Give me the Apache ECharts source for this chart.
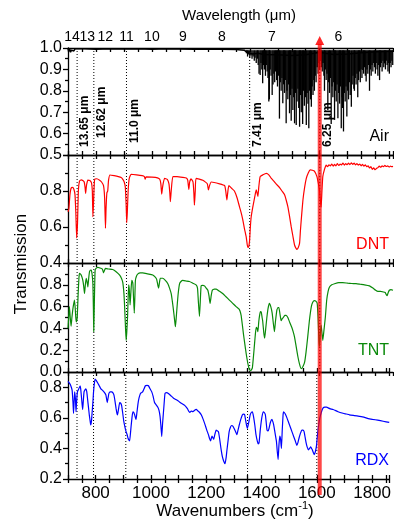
<!DOCTYPE html>
<html><head><meta charset="utf-8">
<script src="https://cdn.jsdelivr.net/npm/echarts/dist/echarts.min.js"></script>
<style>html,body{margin:0;padding:0;background:#fff}#c{width:394px;height:527px}</style>
</head><body><div id="c"></div><script>
// ---------------- DATA ----------------
const wavelengthTicks = [14, 13, 12, 11, 10, 9, 8, 7, 6];          // top axis (µm)
const markerWavelengths = ['13.65', '12.62', '11.0', '7.41', '6.25'];  // dotted markers (µm)
const arrowWavelength = '6.25';
const panelNames = ['Air', 'DNT', 'TNT', 'RDX'];

const airBaseline = [[700,0.995],[703,0.985],[706,0.995],[709,0.98],[712,0.99],[715,0.985],[718,0.995],[721,0.986],[725,0.996],[729,0.99],[735,0.997],[760,0.996],[800,0.994],[850,0.996],[900,0.995],[950,0.996],[1000,0.994],[1050,0.996],[1100,0.995],[1150,0.994],[1200,0.995],[1250,0.994],[1300,0.993],[1330,0.99],[1340,0.98],[1360,0.972],[1380,0.975],[1400,0.97],[1450,0.968],[1500,0.965],[1550,0.968],[1580,0.975],[1600,0.98],[1620,0.975],[1650,0.97],[1700,0.972],[1750,0.978],[1800,0.982],[1862,0.985]];

const airLines = [[1338,0.975],[1342,0.96],[1346,0.97],[1350,0.955],[1354,0.965],[1358,0.95],[1362,0.96],[1366,0.94],[1369,0.955],[1373,0.93],[1377,0.95],[1380,0.92],[1383,0.88],[1387,0.874],[1390,0.93],[1393,0.90],[1396,0.835],[1399,0.92],[1402,0.90],[1406,0.87],[1409,0.92],[1412,0.89],[1415,0.86],[1418,0.75],[1420,0.76],[1423,0.90],[1426,0.87],[1430,0.78],[1433,0.83],[1436,0.88],[1439,0.84],[1442,0.89],[1446,0.85],[1449,0.82],[1452,0.87],[1456,0.67],[1459,0.84],[1462,0.80],[1465,0.86],[1468,0.742],[1471,0.83],[1474,0.79],[1477,0.85],[1480,0.648],[1483,0.80],[1486,0.76],[1489,0.83],[1492,0.695],[1495,0.78],[1498,0.66],[1501,0.81],[1504,0.71],[1507,0.77],[1510,0.648],[1513,0.79],[1516,0.64],[1519,0.75],[1522,0.81],[1525,0.72],[1528,0.632],[1531,0.78],[1534,0.70],[1537,0.76],[1539,0.645],[1542,0.80],[1545,0.73],[1549,0.77],[1552,0.64],[1555,0.79],[1558,0.74],[1561,0.625],[1564,0.80],[1567,0.76],[1570,0.726],[1573,0.82],[1576,0.78],[1579,0.85],[1581,0.80],[1584,0.87],[1587,0.84],[1591,0.91],[1594,0.88],[1597,0.93],[1600,0.90],[1603,0.94],[1606,0.91],[1609,0.89],[1612,0.93],[1615,0.87],[1617,0.80],[1620,0.90],[1623,0.85],[1626,0.88],[1629,0.71],[1632,0.84],[1635,0.79],[1638,0.86],[1641,0.645],[1644,0.82],[1647,0.77],[1650,0.84],[1653,0.664],[1656,0.80],[1659,0.75],[1662,0.83],[1665,0.672],[1668,0.79],[1671,0.74],[1674,0.82],[1677,0.625],[1680,0.77],[1682,0.72],[1685,0.61],[1688,0.79],[1691,0.75],[1694,0.82],[1697,0.68],[1700,0.80],[1703,0.76],[1706,0.84],[1709,0.78],[1713,0.726],[1716,0.83],[1719,0.87],[1722,0.81],[1724,0.80],[1727,0.86],[1730,0.83],[1733,0.88],[1736,0.77],[1739,0.85],[1742,0.89],[1745,0.84],[1748,0.90],[1751,0.86],[1754,0.897],[1757,0.88],[1760,0.91],[1763,0.87],[1766,0.843],[1769,0.90],[1772,0.88],[1775,0.92],[1778,0.80],[1781,0.90],[1784,0.87],[1787,0.92],[1790,0.89],[1793,0.93],[1796,0.91],[1799,0.88],[1802,0.93],[1805,0.90],[1808,0.87],[1811,0.92],[1814,0.85],[1817,0.91],[1820,0.93],[1823,0.89],[1826,0.94],[1829,0.91],[1832,0.928],[1835,0.90],[1838,0.94],[1841,0.92],[1844,0.89],[1847,0.93],[1849,0.88],[1852,0.93],[1855,0.91],[1858,0.94],[1861,0.92]];

const dnt = [[700,0.685],[703,0.70],[707,0.78],[711,0.815],[716,0.82],[721,0.81],[725,0.78],[728,0.68],[731,0.54],[734,0.62],[737,0.80],[741,0.855],[747,0.862],[753,0.858],[758,0.85],[761,0.82],[763,0.787],[766,0.83],[771,0.86],[778,0.858],[784,0.845],[787,0.80],[789,0.657],[791,0.72],[795,0.865],[803,0.868],[813,0.86],[820,0.85],[827,0.83],[831,0.76],[834,0.593],[836,0.70],[839,0.79],[842,0.80],[845,0.86],[850,0.889],[865,0.885],[880,0.88],[890,0.875],[896,0.865],[901,0.85],[905,0.82],[908,0.72],[910,0.624],[912,0.68],[915,0.80],[919,0.87],[926,0.893],[945,0.89],[965,0.885],[973,0.88],[976,0.866],[979,0.878],[1000,0.877],[1020,0.873],[1028,0.865],[1032,0.84],[1035,0.783],[1038,0.82],[1045,0.87],[1055,0.865],[1061,0.84],[1064,0.79],[1066,0.741],[1069,0.80],[1075,0.88],[1090,0.88],[1110,0.876],[1123,0.872],[1128,0.86],[1132,0.809],[1135,0.85],[1140,0.868],[1147,0.85],[1150,0.79],[1152,0.722],[1155,0.80],[1158,0.87],[1182,0.86],[1198,0.84],[1202,0.806],[1206,0.83],[1212,0.85],[1242,0.84],[1260,0.83],[1264,0.80],[1268,0.75],[1271,0.79],[1275,0.83],[1285,0.815],[1295,0.80],[1305,0.76],[1313,0.713],[1319,0.68],[1325,0.64],[1331,0.59],[1337,0.546],[1341,0.50],[1343,0.487],[1346,0.49],[1349,0.52],[1352,0.60],[1355,0.657],[1361,0.713],[1368,0.77],[1373,0.806],[1376,0.79],[1379,0.77],[1382,0.82],[1387,0.88],[1397,0.89],[1409,0.898],[1418,0.89],[1427,0.87],[1436,0.855],[1444,0.84],[1450,0.83],[1456,0.82],[1465,0.80],[1474,0.78],[1480,0.75],[1486,0.713],[1492,0.66],[1498,0.602],[1504,0.55],[1510,0.50],[1514,0.485],[1518,0.476],[1523,0.485],[1528,0.51],[1531,0.58],[1534,0.64],[1540,0.75],[1546,0.82],[1552,0.87],[1559,0.90],[1566,0.917],[1574,0.915],[1581,0.91],[1590,0.88],[1594,0.85],[1599,0.806],[1602,0.75],[1605,0.71],[1608,0.80],[1611,0.88],[1617,0.92],[1623,0.944],[1628,0.935],[1633,0.945],[1638,0.94],[1643,0.95],[1648,0.938],[1653,0.948],[1658,0.94],[1663,0.952],[1668,0.942],[1673,0.95],[1678,0.945],[1683,0.955],[1688,0.944],[1693,0.952],[1698,0.946],[1703,0.955],[1708,0.947],[1713,0.956],[1718,0.948],[1723,0.955],[1728,0.945],[1733,0.952],[1738,0.944],[1743,0.95],[1748,0.94],[1753,0.948],[1758,0.938],[1763,0.945],[1768,0.935],[1773,0.94],[1778,0.928],[1783,0.935],[1788,0.92],[1793,0.928],[1798,0.918],[1803,0.925],[1808,0.93],[1813,0.938],[1818,0.932],[1823,0.94],[1828,0.935],[1833,0.942],[1838,0.936],[1843,0.94],[1848,0.933],[1853,0.938],[1858,0.935],[1862,0.937]];

const tnt = [[700,0.40],[703,0.52],[705,0.60],[708,0.50],[711,0.42],[714,0.50],[717,0.57],[720,0.62],[723,0.66],[726,0.58],[729,0.46],[731,0.47],[733,0.50],[736,0.70],[739,0.86],[741,0.905],[744,0.90],[747,0.89],[750,0.87],[753,0.84],[756,0.79],[759,0.72],[762,0.80],[765,0.86],[768,0.83],[771,0.78],[774,0.86],[777,0.92],[780,0.935],[783,0.936],[786,0.90],[789,0.81],[791,0.55],[792,0.37],[794,0.60],[797,0.936],[802,0.955],[807,0.96],[813,0.955],[819,0.95],[823,0.945],[827,0.91],[830,0.93],[834,0.95],[845,0.945],[860,0.94],[872,0.92],[884,0.89],[891,0.86],[896,0.82],[900,0.72],[903,0.57],[906,0.38],[908,0.29],[910,0.36],[913,0.51],[915,0.68],[917,0.80],[919,0.76],[922,0.615],[925,0.74],[928,0.84],[930,0.83],[932,0.81],[934,0.70],[937,0.54],[939,0.68],[941,0.84],[945,0.88],[950,0.90],[958,0.91],[967,0.91],[985,0.90],[1003,0.89],[1012,0.87],[1017,0.85],[1021,0.80],[1024,0.77],[1027,0.82],[1030,0.86],[1039,0.86],[1048,0.84],[1057,0.81],[1063,0.77],[1069,0.72],[1073,0.65],[1077,0.57],[1081,0.48],[1084,0.415],[1087,0.50],[1090,0.60],[1094,0.72],[1099,0.81],[1104,0.83],[1110,0.84],[1122,0.835],[1134,0.83],[1146,0.815],[1158,0.80],[1163,0.77],[1166,0.65],[1170,0.51],[1173,0.65],[1176,0.79],[1182,0.795],[1188,0.79],[1194,0.77],[1200,0.75],[1204,0.70],[1208,0.63],[1212,0.70],[1216,0.75],[1223,0.76],[1230,0.76],[1242,0.74],[1253,0.72],[1265,0.69],[1277,0.66],[1289,0.63],[1301,0.60],[1306,0.59],[1311,0.58],[1315,0.56],[1319,0.52],[1323,0.44],[1327,0.355],[1332,0.26],[1337,0.17],[1343,0.08],[1349,0.02],[1354,0.015],[1359,0.035],[1363,0.14],[1367,0.26],[1370,0.35],[1373,0.41],[1376,0.40],[1379,0.37],[1382,0.46],[1385,0.52],[1388,0.555],[1391,0.55],[1394,0.50],[1396,0.47],[1400,0.36],[1403,0.31],[1407,0.40],[1411,0.50],[1415,0.58],[1420,0.63],[1425,0.60],[1430,0.54],[1434,0.45],[1438,0.37],[1442,0.47],[1447,0.57],[1451,0.59],[1454,0.59],[1458,0.53],[1462,0.47],[1466,0.49],[1470,0.50],[1475,0.52],[1480,0.52],[1486,0.50],[1492,0.46],[1500,0.41],[1505,0.37],[1510,0.32],[1516,0.23],[1522,0.14],[1528,0.07],[1534,0.03],[1540,0.05],[1546,0.09],[1551,0.18],[1557,0.32],[1563,0.47],[1570,0.60],[1575,0.64],[1581,0.655],[1586,0.65],[1591,0.63],[1594,0.50],[1597,0.30],[1599,0.235],[1602,0.35],[1605,0.43],[1608,0.36],[1611,0.29],[1615,0.38],[1620,0.50],[1625,0.66],[1630,0.74],[1635,0.78],[1643,0.80],[1653,0.81],[1668,0.82],[1682,0.82],[1700,0.815],[1715,0.812],[1730,0.81],[1745,0.805],[1760,0.80],[1778,0.79],[1790,0.77],[1800,0.75],[1808,0.74],[1817,0.74],[1826,0.735],[1834,0.73],[1838,0.71],[1841,0.70],[1845,0.73],[1849,0.75],[1855,0.755],[1862,0.75]];

const rdx = [[700,0.839],[704,0.83],[708,0.82],[712,0.80],[715,0.78],[718,0.70],[720,0.629],[722,0.70],[724,0.77],[727,0.72],[729,0.64],[731,0.70],[734,0.77],[739,0.79],[744,0.81],[746,0.79],[748,0.75],[751,0.69],[753,0.655],[755,0.70],[758,0.77],[762,0.785],[765,0.79],[768,0.77],[771,0.72],[774,0.67],[777,0.62],[780,0.58],[782,0.554],[785,0.58],[787,0.63],[790,0.70],[792,0.76],[795,0.82],[798,0.854],[802,0.845],[807,0.83],[813,0.81],[819,0.79],[825,0.78],[830,0.77],[834,0.76],[837,0.75],[840,0.72],[842,0.70],[845,0.73],[848,0.76],[853,0.77],[858,0.77],[862,0.765],[866,0.75],[870,0.71],[874,0.66],[877,0.63],[879,0.62],[883,0.66],[887,0.70],[891,0.695],[894,0.68],[898,0.63],[902,0.575],[906,0.54],[910,0.51],[914,0.49],[917,0.468],[920,0.455],[923,0.45],[926,0.50],[928,0.54],[932,0.61],[935,0.64],[938,0.635],[941,0.62],[944,0.60],[946,0.59],[949,0.63],[953,0.69],[957,0.73],[962,0.76],[966,0.765],[970,0.77],[975,0.79],[980,0.81],[986,0.812],[991,0.81],[997,0.79],[1003,0.77],[1008,0.74],[1013,0.70],[1019,0.685],[1025,0.67],[1029,0.65],[1033,0.61],[1036,0.55],[1039,0.479],[1042,0.56],[1045,0.63],[1048,0.70],[1051,0.76],[1057,0.765],[1063,0.76],[1072,0.745],[1081,0.73],[1090,0.72],[1099,0.71],[1110,0.695],[1123,0.68],[1132,0.66],[1140,0.635],[1146,0.645],[1152,0.64],[1158,0.65],[1164,0.655],[1170,0.645],[1176,0.635],[1182,0.62],[1189,0.59],[1196,0.554],[1202,0.52],[1208,0.49],[1212,0.465],[1216,0.45],[1219,0.47],[1221,0.48],[1224,0.47],[1227,0.46],[1231,0.49],[1236,0.52],[1240,0.515],[1244,0.51],[1248,0.47],[1253,0.404],[1258,0.35],[1263,0.318],[1268,0.30],[1272,0.34],[1275,0.39],[1279,0.45],[1283,0.51],[1288,0.54],[1292,0.55],[1297,0.545],[1301,0.53],[1306,0.51],[1311,0.49],[1315,0.52],[1319,0.55],[1325,0.59],[1331,0.62],[1335,0.625],[1339,0.62],[1342,0.59],[1346,0.55],[1349,0.53],[1351,0.53],[1355,0.58],[1359,0.62],[1363,0.635],[1367,0.64],[1371,0.61],[1376,0.55],[1380,0.49],[1385,0.446],[1388,0.43],[1391,0.436],[1394,0.49],[1396,0.53],[1401,0.60],[1406,0.64],[1410,0.635],[1414,0.62],[1417,0.57],[1420,0.52],[1424,0.515],[1427,0.53],[1432,0.57],[1438,0.59],[1441,0.575],[1444,0.554],[1449,0.50],[1454,0.446],[1457,0.38],[1460,0.328],[1463,0.42],[1466,0.48],[1469,0.46],[1472,0.40],[1475,0.52],[1478,0.62],[1480,0.64],[1486,0.625],[1492,0.60],[1498,0.57],[1504,0.54],[1510,0.51],[1516,0.48],[1522,0.45],[1528,0.42],[1532,0.44],[1536,0.47],[1541,0.50],[1546,0.52],[1550,0.52],[1554,0.51],[1558,0.47],[1561,0.44],[1565,0.41],[1570,0.39],[1574,0.40],[1578,0.41],[1581,0.40],[1584,0.39],[1588,0.37],[1591,0.36],[1595,0.38],[1599,0.42],[1602,0.48],[1605,0.53],[1608,0.57],[1611,0.60],[1617,0.64],[1623,0.665],[1629,0.67],[1635,0.67],[1647,0.66],[1659,0.655],[1677,0.64],[1695,0.63],[1707,0.625],[1718,0.62],[1736,0.615],[1754,0.61],[1770,0.605],[1786,0.595],[1802,0.59],[1820,0.585],[1840,0.578],[1862,0.57]];

// ---------------- LAYOUT / STYLE ----------------
const FONT = "'Liberation Sans', Arial, Helvetica, sans-serif";
const X_MIN = 700, X_MAX = 1862, X_STEP = 50, X_LABEL_STEP = 200;
const panels = [
  {data: null,  color: '#000000', yMin: 0.5, yMax: 1.0, yStep: 0.1, top: 48,  height: 107, showMax: true,  labelY: 137},
  {data: dnt,   color: '#ff0000', yMin: 0.4, yMax: 1.0, yStep: 0.2, top: 155, height: 108, showMax: false, labelY: 245},
  {data: tnt,   color: '#0a8a0a', yMin: 0.0, yMax: 1.0, yStep: 0.2, top: 263, height: 109, showMax: false, labelY: 351},
  {data: rdx,   color: '#0000ff', yMin: 0.2, yMax: 0.9, yStep: 0.2, top: 372, height: 107, showMax: false, labelY: 461}
];
const markerLabelLift = [8, 17, 12, 8, 8];
const AX = {color: '#000', width: 1.3};

const chart = echarts.init(document.getElementById('c'));

const grid = panels.map(p => ({left: 68, right: 1, top: p.top, height: p.height}));

const xAxis = [];
panels.forEach((p, i) => xAxis.push({
  gridIndex: i, type: 'value', position: 'bottom', min: X_MIN, max: X_MAX, interval: X_STEP,
  axisLine: {show: true, onZero: false, lineStyle: AX},
  axisTick: {show: true, inside: false, length: 4, lineStyle: AX},
  axisLabel: {show: i === 3, margin: 6, fontSize: 17, color: '#000', fontFamily: FONT,
    formatter: v => (Math.abs(v % X_LABEL_STEP) < 1e-6 ? String(v) : '')},
  splitLine: {show: false}
}));
panels.forEach((p, i) => xAxis.push({
  gridIndex: i, type: 'value', position: 'top', min: X_MIN, max: X_MAX, interval: X_STEP,
  axisLine: {show: true, onZero: false, lineStyle: AX},
  axisTick: {show: true, inside: i === 0, length: 4, lineStyle: AX},
  axisLabel: {show: false}, splitLine: {show: false}
}));
xAxis.push({
  gridIndex: 3, type: 'value', position: 'bottom', min: X_MIN, max: X_MAX, interval: X_STEP,
  axisLine: {show: false, onZero: false}, axisTick: {show: true, inside: true, length: 4, lineStyle: AX},
  axisLabel: {show: false}, splitLine: {show: false}
});

const yAxis = panels.map((p, i) => ({
  gridIndex: i, type: 'value', position: 'left', min: p.yMin, max: p.yMax, interval: p.yStep,
  axisLine: {show: true, onZero: false, lineStyle: AX},
  axisTick: {show: true, inside: false, length: 5, lineStyle: AX},
  minorTick: {show: true, splitNumber: 2, length: 3, lineStyle: AX},
  axisLabel: {margin: 6, fontSize: 16, color: '#000', fontFamily: FONT, showMaxLabel: p.showMax,
    formatter: v => v.toFixed(1)},
  splitLine: {show: false}
}));

const markerWn = markerWavelengths.map(s => 1e4 / parseFloat(s));
const series = [];

// Air baseline and absorption lines
series.push({type: 'line', xAxisIndex: 0, yAxisIndex: 0, data: airBaseline, showSymbol: false, symbol: 'none',
  lineStyle: {color: '#000', width: 1.5}, z: 3});
series.push({type: 'custom', xAxisIndex: 0, yAxisIndex: 0, data: airLines, encode: {x: 0, y: 1}, z: 3,
  renderItem: (params, api) => {
    const a = api.coord([api.value(0), 0.99]);
    const b = api.coord([api.value(0), api.value(1)]);
    return {type: 'line', shape: {x1: a[0], y1: a[1], x2: b[0], y2: b[1]}, style: {stroke: '#000', lineWidth: 1.3}};
  }});

// explosive spectra
[1, 2, 3].forEach(i => series.push({type: 'line', xAxisIndex: i, yAxisIndex: i, data: panels[i].data,
  showSymbol: false, symbol: 'none', smooth: 0.15, lineStyle: {color: panels[i].color, width: 1.2}, z: 3}));

// dotted marker lines in every panel
panels.forEach((p, i) => series.push({type: 'custom', xAxisIndex: i, yAxisIndex: i, clip: false, z: 2,
  data: markerWn.map(w => [w, p.yMin]), encode: {x: 0, y: 1},
  renderItem: (params, api) => {
    const cs = params.coordSys;
    const x = api.coord([api.value(0), api.value(1)])[0];
    return {type: 'line', shape: {x1: x, y1: cs.y, x2: x, y2: cs.y + cs.height},
      style: {stroke: '#000', lineWidth: 1, lineDash: [1, 2]}};
  }}));

// marker labels (rotated) in Air panel
series.push({type: 'custom', xAxisIndex: 0, yAxisIndex: 0, clip: false, z: 4,
  data: markerWn.map(w => [w, panels[0].yMin]), encode: {x: 0, y: 1},
  renderItem: (params, api) => {
    const cs = params.coordSys;
    const x = api.coord([api.value(0), api.value(1)])[0];
    const k = params.dataIndex;
    return {type: 'text', x: x + 8, y: cs.y + cs.height - markerLabelLift[k], rotation: Math.PI / 2,
      style: {text: markerWavelengths[k] + ' μm', fill: '#000', font: 'bold 12px ' + FONT, align: 'left', verticalAlign: 'middle'}};
  }});

// top wavelength axis labels
series.push({type: 'custom', xAxisIndex: 0, yAxisIndex: 0, clip: false, z: 4,
  data: wavelengthTicks.map(l => [1e4 / l, panels[0].yMax]), encode: {x: 0, y: 1},
  renderItem: (params, api) => {
    const c = api.coord([api.value(0), api.value(1)]);
    return {type: 'text', x: c[0], y: c[1] - 11,
      style: {text: String(wavelengthTicks[params.dataIndex]), fill: '#000', font: '14px ' + FONT, align: 'center', verticalAlign: 'middle'}};
  }});

const graphic = [
  {type: 'text', x: 239, y: 16, style: {text: 'Wavelength (μm)', fill: '#000', font: '15px ' + FONT, align: 'center', verticalAlign: 'middle'}},
  {type: 'text', x: 21, y: 264, rotation: Math.PI / 2, style: {text: 'Transmission', fill: '#000', font: '17px ' + FONT, align: 'center', verticalAlign: 'middle'}},
  {type: 'text', x: 235, y: 510, style: {
    text: '{a|Wavenumbers (cm}{s|-1}{a|)}', align: 'center', verticalAlign: 'middle',
    rich: {a: {fontSize: 17, fontFamily: FONT, fill: '#000', lineHeight: 20, verticalAlign: 'bottom'},
           s: {fontSize: 11, fontFamily: FONT, fill: '#000', lineHeight: 20, verticalAlign: 'top'}}}}
];
panels.forEach((p, i) => graphic.push({type: 'text', x: 389, y: p.labelY,
  style: {text: panelNames[i], fill: p.color, font: '16px ' + FONT, align: 'right', verticalAlign: 'middle'}}));

chart.setOption({animation: false, backgroundColor: '#fff', grid, xAxis, yAxis, series, graphic});

// red arrow at the marked wavelength, positioned through the axes
const rx = chart.convertToPixel({xAxisIndex: 0}, 1e4 / parseFloat(arrowWavelength));
const yT = chart.convertToPixel({yAxisIndex: 0}, panels[0].yMax);
const yB = chart.convertToPixel({yAxisIndex: 3}, panels[3].yMin);
graphic.push({type: 'line', z: 100, shape: {x1: rx, y1: yT - 4, x2: rx, y2: yB + 16},
  style: {stroke: 'rgba(255,0,0,0.72)', lineWidth: 4}});
graphic.push({type: 'polygon', z: 100, shape: {points: [[rx, yT - 12], [rx - 4.5, yT - 3], [rx + 4.5, yT - 3]]},
  style: {fill: 'rgba(255,0,0,0.85)'}});
chart.setOption({graphic});
</script></body></html>
